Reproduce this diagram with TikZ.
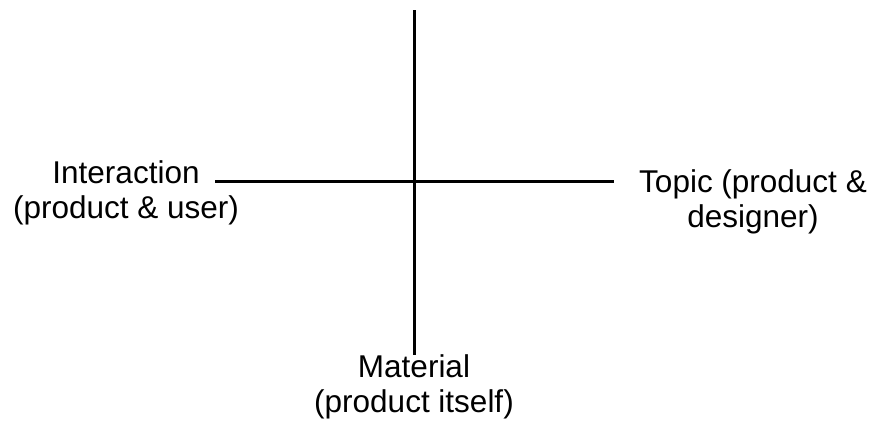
\documentclass[tikz,border=0pt]{standalone}
\usepackage{fontspec}
\setmainfont{Liberation Sans}
\usetikzlibrary{positioning}
\tikzset{
  axis-line/.style={line width=3pt,draw=black},
  axis-label/.style={align=center,inner sep=0pt,anchor=base,
    font=\fontsize{31.5}{35}\selectfont},
}

\begin{document}
\begin{tikzpicture}[x=1pt,y=-1pt]
  \useasboundingbox (0,0) rectangle (872,423);
  \coordinate (top) at (414,10);
  \coordinate (bottom) at (414,355);
  \coordinate (west) at (215,181);
  \coordinate (east) at (614,181);
  \draw[axis-line] (top) -- (bottom);
  \draw[axis-line] (west) -- (east);
  % base anchor sits on the last line
  \node[axis-label] (interaction) at (126,218) {Interaction\\(product \& user)};
  \node[axis-label] (topic) at (753,227) {Topic (product \&\\designer)};
  \node[axis-label] (material) at (414,412) {Material\\(product itself)};
\end{tikzpicture}
\end{document}
